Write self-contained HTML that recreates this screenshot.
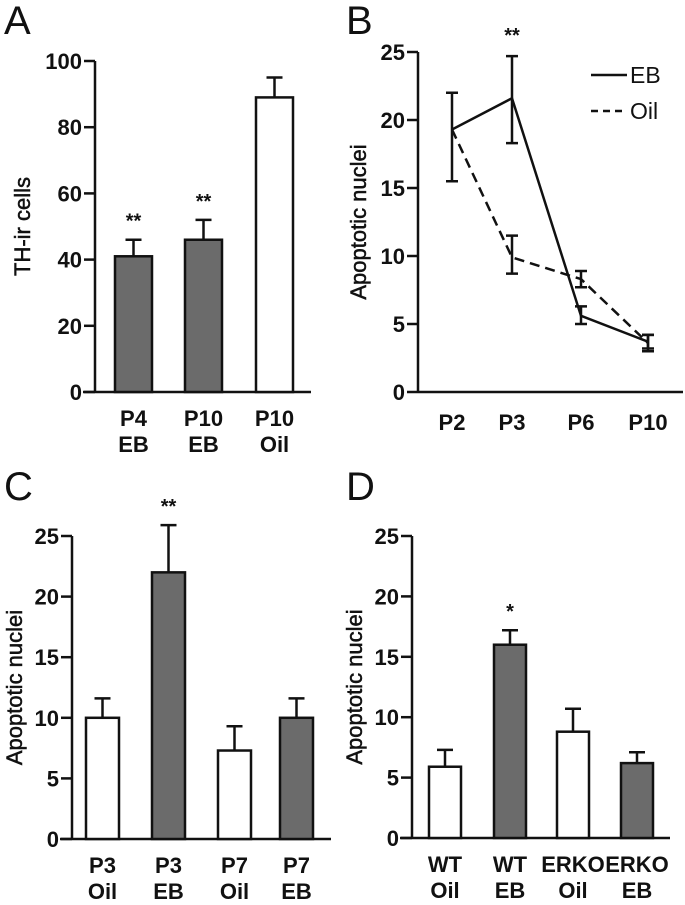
<!DOCTYPE html>
<html><head><meta charset="utf-8">
<style>
body{margin:0;background:#fff;}
svg text{font-family:"Liberation Sans",Arial,sans-serif;fill:#111;}
.t{font-size:22px;font-weight:bold;}
.ax{stroke:#111;stroke-width:2.5;fill:none;}
</style></head>
<body>
<svg id="fig" width="685" height="900" viewBox="0 0 685 900">
<text x="4" y="34" font-size="40">A</text>
<text x="346" y="34" font-size="40">B</text>
<text x="4" y="500" font-size="40">C</text>
<text x="346" y="500" font-size="40">D</text>
<g id="A"></g>
<g id="B"></g>
<g id="C"></g>
<g id="D"></g>
</svg>
<script>
// Panel A
const aCats1 = ["P4","P10","P10"];
const aCats2 = ["EB","EB","Oil"];
const aVals = [41, 46, 89];
const aErr = [46, 52, 95];
const aFill = ["#6b6b6b","#6b6b6b","#fff"];
const aStars = ["**","**",""];
const aTicks = [0,20,40,60,80,100];
// Panel B
const bCats = ["P2","P3","P6","P10"];
const bEB = [19.3, 21.6, 5.6, 3.7];
const bEBhi = [22, 24.7, 6.3, 4.2];
const bEBlo = [15.5, 18.3, 5.0, 3.2];
const bOil = [19.3, 9.9, 8.3, 3.6];
const bOilhi = [19.3, 11.5, 8.9, 4.2];
const bOillo = [19.3, 8.7, 7.7, 3.0];
const bTicks = [0,5,10,15,20,25];
// Panel C
const cCats1 = ["P3","P3","P7","P7"];
const cCats2 = ["Oil","EB","Oil","EB"];
const cVals = [10, 22, 7.3, 10];
const cErr = [11.6, 25.9, 9.3, 11.6];
const cFill = ["#fff","#6b6b6b","#fff","#6b6b6b"];
const cStars = ["","**","",""];
// Panel D
const dCats1 = ["WT","WT","ERKO","ERKO"];
const dCats2 = ["Oil","EB","Oil","EB"];
const dVals = [5.9, 16, 8.8, 6.2];
const dErr = [7.3, 17.2, 10.7, 7.1];
const dFill = ["#fff","#6b6b6b","#fff","#6b6b6b"];
const dStars = ["","*","",""];
const cdTicks = [0,5,10,15,20,25];

const NS="http://www.w3.org/2000/svg";
function mk(p,tag,at,txt){const e=document.createElementNS(NS,tag);for(const k in at)e.setAttribute(k,at[k]);if(txt!==undefined)e.textContent=txt;p.appendChild(e);return e;}

function axes(g,o){
  const y=v=>o.y0-(v-o.min)/(o.max-o.min)*(o.y0-o.y1);
  const ya=mk(g,'line',{x1:o.ax,y1:y(o.max),x2:o.ax,y2:o.y0,class:'ax'});
  
  
  const xa=mk(g,'line',{x1:o.xs,y1:o.y0,x2:o.xe,y2:o.y0,class:'ax'});
  
  
  o.ticks.forEach(t=>{
    const tk=mk(g,'line',{x1:o.ax-11,y1:y(t),x2:o.ax,y2:y(t),class:'ax'});
    
    
    const tl=mk(g,'text',{x:o.ax-13,y:y(t)+8,'text-anchor':'end',class:'t'},t);
    
    
  });
  const yt=mk(g,'text',{transform:`translate(${o.tx},${(o.y0+o.y1)/2}) rotate(-90)`,'text-anchor':'middle',style:'font-size:22px;stroke:#111;stroke-width:0.5'},o.title);
  
  
  return y;
}

function bars(g,o,c1,c2,vals,err,fill,stars,xs,w){
  const y=axes(g,o);
  vals.forEach((v,i)=>{
    const x=xs[i];
    const eb=mk(g,'path',{d:`M${x+w/2} ${y(v)}V${y(err[i])}M${x+w/2-8} ${y(err[i])}H${x+w/2+8}`,class:'ax'});
    
    
    const r=mk(g,'rect',{x:x,y:y(v),width:w,height:o.y0-y(v),fill:fill[i],stroke:'#111','stroke-width':2.5});
    
    
    if(stars[i]){const s=mk(g,'text',{x:x+w/2,y:y(err[i])-12,'text-anchor':'middle',class:'t',style:'font-size:20px'},stars[i]);
      
      }
    const l1=mk(g,'text',{x:x+w/2,y:o.y0+34,'text-anchor':'middle',class:'t'},c1[i]);
    
    
    const l2=mk(g,'text',{x:x+w/2,y:o.y0+60,'text-anchor':'middle',class:'t'},c2[i]);
    
    
  });
}

bars(document.getElementById('A'),{ax:95,y0:392,y1:61,min:0,max:100,xs:83,xe:311,ticks:aTicks,tx:30,title:'TH-ir cells'},
  aCats1,aCats2,aVals,aErr,aFill,aStars,[115,185,256],37);
bars(document.getElementById('C'),{ax:72,y0:839,y1:536,min:0,max:25,xs:60,xe:331,ticks:cdTicks,tx:22,title:'Apoptotic nuclei'},
  cCats1,cCats2,cVals,cErr,cFill,cStars,[86,152,218,280],33);
bars(document.getElementById('D'),{ax:412,y0:838,y1:536,min:0,max:25,xs:400,xe:670,ticks:cdTicks,tx:362,title:'Apoptotic nuclei'},
  dCats1,dCats2,dVals,dErr,dFill,dStars,[429,494,557,621],32);

// Panel B line chart
(function(){
  const g=document.getElementById('B');
  const o={ax:418,y0:392,y1:52,min:0,max:25,xs:418,xe:683,ticks:bTicks,tx:366,title:'Apoptotic nuclei'};
  const y=axes(g,o);
  const xp=[452,512,581,648];
  const X=i=>xp[i];
  bCats.forEach((c,i)=>{const l=mk(g,'text',{x:X(i),y:o.y0+38,'text-anchor':'middle',class:'t'},c);
    
    });
  const eb=mk(g,'polyline',{points:bEB.map((v,i)=>X(i)+','+y(v)).join(' '),class:'ax'});
  
  
  const oil=mk(g,'polyline',{points:bOil.map((v,i)=>X(i)+','+y(v)).join(' '),class:'ax','stroke-dasharray':'10,6'});
  
  
  function err(hi,lo,nm){hi.forEach((h,i)=>{if(h===lo[i])return;
    const e=mk(g,'path',{d:`M${X(i)} ${y(h)}V${y(lo[i])}M${X(i)-6} ${y(h)}H${X(i)+6}M${X(i)-6} ${y(lo[i])}H${X(i)+6}`,class:'ax'});
    
    });}
  err(bEBhi,bEBlo,'eb-error-bar');err(bOilhi,bOillo,'oil-error-bar');
  const s=mk(g,'text',{x:X(1),y:y(bEBhi[1])-14,'text-anchor':'middle',class:'t',style:'font-size:20px'},'**');
  
  
  const l1=mk(g,'line',{x1:591,y1:75,x2:627,y2:75,class:'ax'});
  
  
  const t1=mk(g,'text',{x:630,y:83,style:'font-size:23px'},'EB');
  
  
  const l2=mk(g,'line',{x1:591,y1:111,x2:627,y2:111,class:'ax','stroke-dasharray':'7,5'});
  
  
  const t2=mk(g,'text',{x:630,y:119,style:'font-size:23px'},'Oil');
  
  
})();
</script>
</body></html>
